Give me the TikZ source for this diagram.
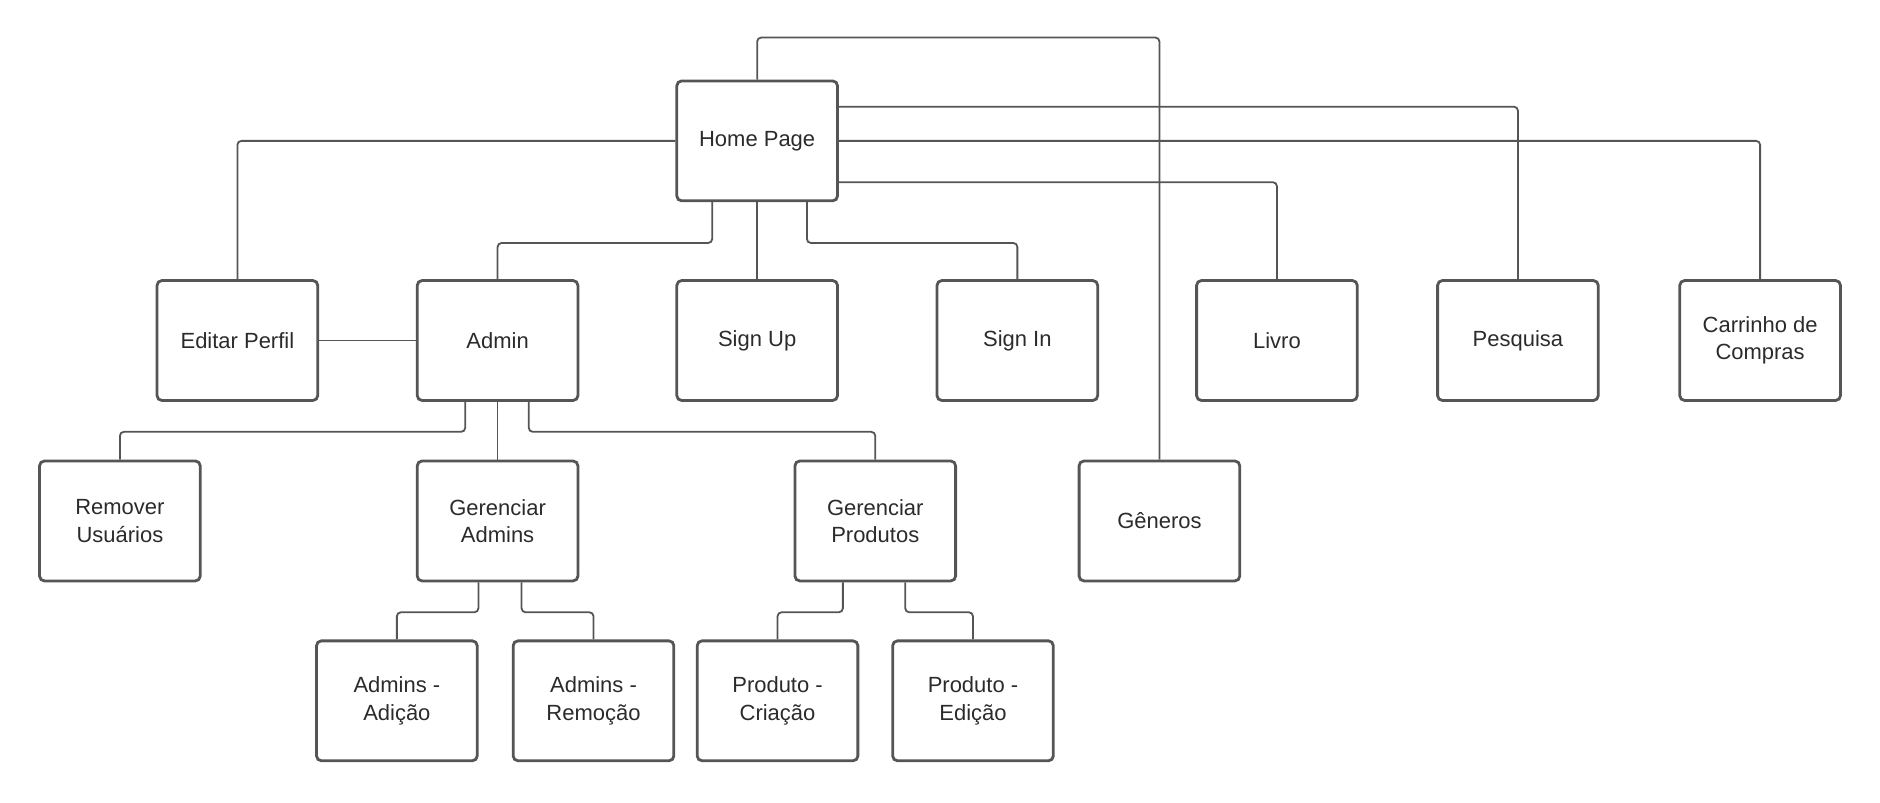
\documentclass[tikz,border=0pt]{standalone}
\usepackage{fontspec}
\setmainfont{Liberation Sans}
\usepackage{tikz}
\usetikzlibrary{positioning}
\definecolor{boxgray}{HTML}{555555}
\definecolor{textgray}{HTML}{2B2B2B}

\begin{document}
\begin{tikzpicture}[
        x=0.6pt, y=-0.6pt,
        page/.style={
          rectangle,
          rounded corners=2.4pt,
          minimum width=80.4pt,
          minimum height=60pt,
          inner sep=0pt,
          align=center,
          draw=boxgray,
          line width=1.4pt,
          text=textgray,
          font=\fontsize{11}{13.8}\selectfont
        },
        link/.style={
          draw=boxgray,
          line width=0.9pt,
          rounded corners=2pt
        }]
      \useasboundingbox (0,0) rectangle (1568,669);
      \node[page] (home) at (631.5,117.5) {Home Page};
      \node[page] (editar) at (198,284) {Editar Perfil};
      \node[page] (admin) at (415,284) {Admin};
      \node[page] (signup) at (631.5,284) {Sign Up};
      \node[page] (signin) at (848.5,284) {Sign In};
      \node[page] (livro) at (1065,284) {Livro};
      \node[page] (pesquisa) at (1266,284) {Pesquisa};
      \node[page] (carrinho) at (1468,284) {Carrinho de\\Compras};
      \node[page] (remover) at (100,434.5) {Remover\\Usuários};
      \node[page] (geradmins) at (415,434.5) {Gerenciar\\Admins};
      \node[page] (gerprod) at (730,434.5) {Gerenciar\\Produtos};
      \node[page] (generos) at (967,434.5) {Gêneros};
      \node[page] (adicao) at (331,584.5) {Admins -\\Adição};
      \node[page] (remocao) at (495,584.5) {Admins -\\Remoção};
      \node[page] (criacao) at (648.5,584.5) {Produto -\\Criação};
      \node[page] (edicao) at (811.5,584.5) {Produto -\\Edição};

      \draw[link] (home.north) -- ++(0,21pt) -| (generos.north);
      \draw[link] ([yshift=17.1pt]home.east) -| (pesquisa.north);
      \draw[link] (home.east) -| (carrinho.north);
      \draw[link] ([yshift=-20.7pt]home.east) -| (livro.north);
      \draw[link] (home.west) -| (editar.north);
      \draw[link] ([xshift=-22.5pt]home.south) -- ++(0,-20.4pt) -| (admin.north);
      \draw[link] (home.south) -- (signup.north);
      \draw[link] ([xshift=24.9pt]home.south) -- ++(0,-20.4pt) -| (signin.north);
      \draw[link] (editar.east) -- (admin.west);
      \draw[link] ([xshift=-16.2pt]admin.south) -- ++(0,-15pt) -| (remover.north);
      \draw[link] (admin.south) -- (geradmins.north);
      \draw[link] ([xshift=15.6pt]admin.south) -- ++(0,-15pt) -| (gerprod.north);
      \draw[link] ([xshift=-9.6pt]geradmins.south) -- ++(0,-15pt) -| (adicao.north);
      \draw[link] ([xshift=12pt]geradmins.south) -- ++(0,-15pt) -| (remocao.north);
      \draw[link] ([xshift=-16.2pt]gerprod.south) -- ++(0,-15pt) -| (criacao.north);
      \draw[link] ([xshift=15pt]gerprod.south) -- ++(0,-15pt) -| (edicao.north);
\end{tikzpicture}
\end{document}
